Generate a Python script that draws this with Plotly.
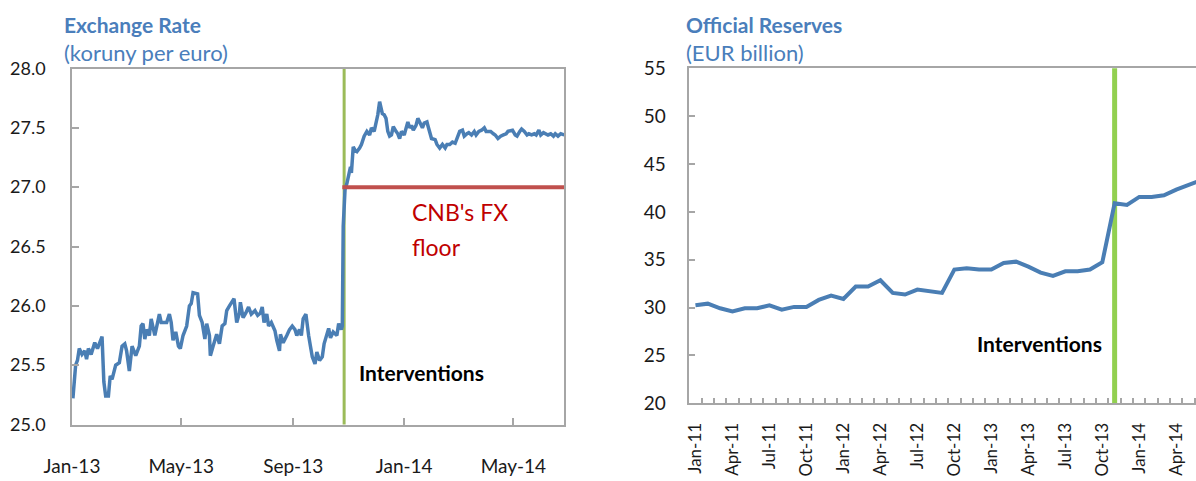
import pandas as pd
import plotly.graph_objects as go

W, H = 1196, 481
FONT = "Lato"
BLUE = "#4A7EB4"
TITLE_BLUE = "#4A7EBB"
AXIS = "#A6A6A6"

# ---------------- Exchange rate (koruny per euro), days since 2013-01-01 ----------------
fx_base = "2013-01-01"
fx_day = [1, 4, 6, 8, 11, 14, 16, 18, 21, 25, 28, 30, 33, 35, 37, 40, 42, 44, 48, 52,
          55, 58, 60, 63, 66, 70, 74, 76, 78, 80, 82, 85, 87, 91, 93, 96, 98, 101, 104, 107,
          109, 111, 114, 117, 119, 122, 126, 129, 131, 133, 136, 138, 140, 143, 146, 148, 151, 152, 155, 159,
          162, 165, 168, 170, 173, 178, 181, 184, 185, 188, 191, 194, 197, 201, 204, 207, 209, 211, 214, 216,
          219, 223, 225, 228, 229, 232, 236, 239, 242, 245, 247, 250, 252, 254, 257, 258, 260, 262, 264, 267,
          269, 272, 275, 277, 279, 282, 284, 287, 291, 293, 296, 297, 298, 299, 300, 302, 305, 306, 307, 309,
          311, 313, 316, 318, 321, 324, 327, 329, 332, 334, 336, 338, 339, 341, 343, 345, 347, 349, 351, 353,
          356, 358, 360, 362, 365, 367, 369, 371, 373, 375, 378, 380, 382, 385, 387, 390, 391, 393, 395, 399,
          401, 404, 407, 410, 412, 415, 418, 421, 423, 426, 429, 431, 434, 436, 439, 442, 444, 447, 450, 453,
          455, 457, 460, 463, 465, 468, 471, 474, 477, 479, 482, 484, 487, 489, 492, 494, 497, 500, 502, 505,
          508, 510, 513, 515, 518, 521, 523, 526, 529, 531, 534, 537, 540, 541]
fx_rate = [25.22, 25.50, 25.54, 25.64, 25.59, 25.62, 25.55, 25.64, 25.59, 25.69, 25.64, 25.68, 25.74, 25.36, 25.24, 25.24, 25.41, 25.38, 25.50, 25.52,
           25.66, 25.68, 25.62, 25.45, 25.66, 25.58, 25.66, 25.83, 25.85, 25.72, 25.80, 25.75, 25.89, 25.75, 25.83, 25.93, 25.86, 25.86, 25.86, 25.93,
           25.86, 25.71, 25.78, 25.66, 25.64, 25.75, 25.83, 26.00, 26.02, 26.11, 26.10, 26.10, 25.92, 25.86, 25.72, 25.85, 25.75, 25.58, 25.66, 25.76,
           25.68, 25.83, 25.85, 25.96, 26.00, 26.06, 25.86, 25.94, 26.03, 25.90, 25.94, 25.99, 25.93, 25.96, 25.92, 25.94, 25.99, 25.86, 25.93, 25.83,
           25.86, 25.79, 25.71, 25.62, 25.76, 25.69, 25.75, 25.80, 25.83, 25.80, 25.75, 25.80, 25.75, 25.89, 25.93, 25.86, 25.75, 25.66, 25.57, 25.51,
           25.61, 25.54, 25.57, 25.68, 25.73, 25.81, 25.73, 25.78, 25.75, 25.85, 25.80, 25.83, 26.67, 26.87, 26.98, 27.03, 27.14, 27.17, 27.12, 27.34,
           27.31, 27.30, 27.33, 27.36, 27.43, 27.47, 27.44, 27.50, 27.47, 27.54, 27.61, 27.72, 27.68, 27.62, 27.61, 27.58, 27.47, 27.43, 27.44, 27.51,
           27.47, 27.45, 27.41, 27.47, 27.44, 27.51, 27.55, 27.50, 27.52, 27.48, 27.52, 27.58, 27.54, 27.50, 27.54, 27.55, 27.52, 27.47, 27.41, 27.40,
           27.36, 27.33, 27.36, 27.33, 27.36, 27.36, 27.38, 27.37, 27.41, 27.47, 27.48, 27.43, 27.45, 27.46, 27.44, 27.47, 27.44, 27.47, 27.48, 27.50,
           27.47, 27.47, 27.47, 27.45, 27.44, 27.41, 27.43, 27.44, 27.45, 27.47, 27.48, 27.48, 27.44, 27.43, 27.47, 27.49, 27.47, 27.44, 27.45, 27.44,
           27.45, 27.44, 27.48, 27.44, 27.46, 27.45, 27.44, 27.45, 27.43, 27.45, 27.43, 27.45, 27.44, 27.44]
fx_floor = 27.0
fx_floor_span = ["2013-10-25", "2014-07-01"]
fx_intervention = "2013-10-27"
fx_range = ["2013-01-01", "2014-06-25 14:00"]

# ---------------- Official reserves (EUR billion), monthly from Jan-11 ----------------
res_start = "2011-01-01"
reserves = [30.24, 30.41, 29.93, 29.61, 29.93, 29.93, 30.24, 29.79, 30.07, 30.07, 30.80, 31.25,
            30.90, 32.19, 32.19, 32.85, 31.53, 31.36, 31.88, 31.74, 31.53, 33.97, 34.11, 33.97,
            33.97, 34.66, 34.80, 34.28, 33.65, 33.31, 33.79, 33.79, 33.97, 34.73, 40.90, 40.72,
            41.56, 41.56, 41.73, 42.33, 42.81, 43.30]
res_intervention = "Nov-13"
res_label_months = ("Jan", "Apr", "Jul", "Oct")

fx_dates = pd.Timestamp(fx_base) + pd.to_timedelta(fx_day, unit="D")
months = pd.date_range(res_start, periods=len(reserves), freq="MS")
res_cats = [m.strftime("%b-%y") for m in months]
res_text = [c if c[:3] in res_label_months else "" for c in res_cats]


def px_x(px):
    return px / W


def px_y(py):
    return 1 - py / H


fig = go.Figure()

# Left chart traces
fig.add_trace(go.Scatter(x=fx_dates, y=fx_rate, mode="lines",
                         line=dict(color=BLUE, width=3.5), xaxis="x", yaxis="y",
                         showlegend=False, hoverinfo="skip"))
fig.add_trace(go.Scatter(x=fx_floor_span, y=[fx_floor, fx_floor], mode="lines",
                         line=dict(color="#C0504D", width=4), xaxis="x", yaxis="y",
                         showlegend=False, hoverinfo="skip"))
# Right chart trace
fig.add_trace(go.Scatter(x=res_cats, y=reserves, mode="lines",
                         line=dict(color=BLUE, width=4), xaxis="x2", yaxis="y2",
                         showlegend=False, hoverinfo="skip"))

fig.add_shape(type="line", xref="x", yref="y domain", x0=fx_intervention, x1=fx_intervention,
              y0=0, y1=1, line=dict(color="#9BBB59", width=3), layer="below")
fig.add_shape(type="line", xref="x2", yref="y2 domain", x0=res_intervention, x1=res_intervention,
              y0=0, y1=1, line=dict(color="#92D050", width=5), layer="below")

tickfont = dict(family=FONT, size=19, color="#1A1A1A")

fig.update_layout(
    width=W, height=H, template="none",
    paper_bgcolor="white", plot_bgcolor="white",
    margin=dict(l=0, r=0, t=0, b=0),
    xaxis=dict(domain=[px_x(72), px_x(564)], type="date", range=fx_range,
               tick0="2013-01-01", dtick="M4", tickformat="%b-%y",
               ticks="inside", ticklen=7, tickcolor=AXIS, tickwidth=1.5,
               showline=True, linecolor=AXIS, linewidth=1.5, mirror=True,
               showgrid=False, zeroline=False, tickfont=tickfont,
               ticklabelstandoff=24, automargin=False, anchor="y"),
    yaxis=dict(domain=[px_y(424.5), px_y(68.5)], range=[25, 28], dtick=0.5, tickformat=".1f",
               ticks="inside", ticklen=7, tickcolor=AXIS, tickwidth=1.5,
               showline=True, linecolor=AXIS, linewidth=1.5, mirror=True,
               showgrid=False, zeroline=False, tickfont=dict(family=FONT, size=18, color="#1A1A1A"),
               ticklabelstandoff=21, automargin=False, anchor="x"),
    xaxis2=dict(domain=[px_x(689.3), 1.0], type="category", range=[-0.5, 40.6],
                tickmode="array", tickvals=res_cats, ticktext=res_text, tickson="boundaries",
                tickangle=-90, ticks="inside", ticklen=6, tickcolor=AXIS, tickwidth=1.5,
                showline=True, linecolor=AXIS, linewidth=1.5, mirror=True,
                showgrid=False, zeroline=False,
                tickfont=dict(family=FONT, size=17, color="#1A1A1A"),
                ticklabelstandoff=11, automargin=False, anchor="y2"),
    yaxis2=dict(domain=[px_y(403.3), px_y(68.3)], range=[20, 55], dtick=5,
                ticks="inside", ticklen=6, tickcolor=AXIS, tickwidth=1.5,
                showline=True, linecolor=AXIS, linewidth=1.5, mirror=False,
                showgrid=False, zeroline=False, tickfont=tickfont,
                ticklabelstandoff=18, automargin=False, anchor="x2"),
)

ann = [
    dict(text="<b>Exchange Rate</b>", x=px_x(62), y=px_y(24), font=dict(family=FONT, size=21, color=TITLE_BLUE)),
    dict(text="(koruny per euro)", x=px_x(62), y=px_y(52), font=dict(family=FONT, size=22, color=TITLE_BLUE)),
    dict(text="<b>Official Reserves</b>", x=px_x(684), y=px_y(24), font=dict(family=FONT, size=21, color=TITLE_BLUE)),
    dict(text="(EUR billion)", x=px_x(684), y=px_y(52), font=dict(family=FONT, size=22, color=TITLE_BLUE)),
    dict(text="CNB's FX", x=px_x(410), y=px_y(212), font=dict(family=FONT, size=23, color="#C00000")),
    dict(text="floor", x=px_x(410), y=px_y(247), font=dict(family=FONT, size=23, color="#C00000")),
    dict(text="<b>Interventions</b>", x=px_x(357), y=px_y(372), font=dict(family=FONT, size=21, color="black")),
]
for a in ann:
    fig.add_annotation(xref="paper", yref="paper", xanchor="left", yanchor="middle",
                       showarrow=False, **a)
fig.add_annotation(text="<b>Interventions</b>", xref="paper", yref="paper",
                   x=px_x(1104), y=px_y(343), xanchor="right", yanchor="middle", showarrow=False,
                   font=dict(family=FONT, size=21, color="black"))

fig.write_html("out.html", config={"displayModeBar": False},
               post_script="document.body.style.margin='0';document.body.style.overflow='hidden';")
